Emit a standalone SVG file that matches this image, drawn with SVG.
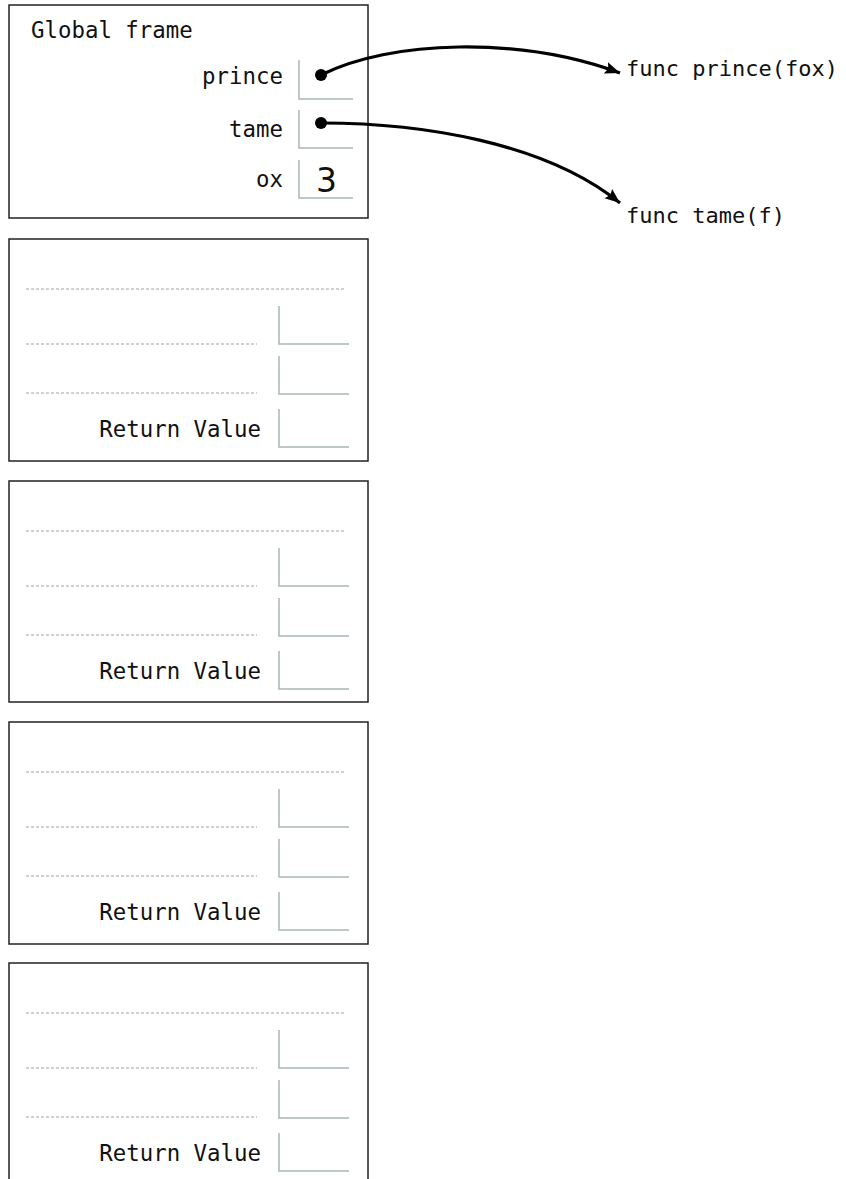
<svg xmlns="http://www.w3.org/2000/svg" width="846" height="1179" viewBox="0 0 846 1179">
<style>
.frame{fill:#fff;stroke:#222;stroke-width:1.5}
.box{fill:none;stroke:#a9b6b6;stroke-width:1.5}
.dot{fill:none;stroke:#98a6a6;stroke-width:1;stroke-dasharray:3 2}
.t{font-family:"DejaVu Sans Mono",monospace;font-size:22.4px;fill:#111}
.f{font-size:22px}
.e{text-anchor:end}
.num{font-family:"DejaVu Sans",sans-serif;font-size:33px;fill:#111}
.arr{fill:none;stroke:#000;stroke-width:3.2}
</style>
<defs>
<marker id="ah" markerUnits="userSpaceOnUse" markerWidth="16" markerHeight="14" refX="15" refY="7" orient="auto">
<path d="M0,1 L15,7 L0,13 L2.5,7 Z" fill="#000"/>
</marker>
<g id="fbody">
<line class="dot" x1="26" y1="50" x2="345" y2="50"/>
<line class="dot" x1="26" y1="105" x2="257" y2="105"/>
<line class="dot" x1="26" y1="154" x2="257" y2="154"/>
<path class="box" d="M279,67 V105 H349"/>
<path class="box" d="M279,117 V155 H349"/>
<path class="box" d="M279,170 V208 H349"/>
<text class="t e" x="261" y="198">Return Value</text>
</g>
</defs>
<g id="global-frame">
<rect class="frame" x="9" y="5" width="359" height="213"/>
<text class="t" x="31" y="38">Global frame</text>
<text class="t e" x="283" y="84">prince</text>
<text class="t e" x="283" y="137">tame</text>
<text class="t e" x="283" y="187">ox</text>
<path class="box" d="M299,60 V99 H353"/>
<path class="box" d="M299,110 V148 H353"/>
<path class="box" d="M299,160 V198 H353"/>
<text class="num" x="316" y="192">3</text>
</g>
<g id="func-prince">
<text class="t f" x="626" y="76">func prince(fox)</text>
</g>
<g id="func-tame">
<text class="t f" x="626" y="223">func tame(f)</text>
</g>
<g id="frame-1">
<rect class="frame" x="9" y="239" width="359" height="222"/>
<use href="#fbody" y="239"/>
</g>
<g id="frame-2">
<rect class="frame" x="9" y="481" width="359" height="221"/>
<use href="#fbody" y="481"/>
</g>
<g id="frame-3">
<rect class="frame" x="9" y="722" width="359" height="222"/>
<use href="#fbody" y="722"/>
</g>
<g id="frame-4">
<rect class="frame" x="9" y="963" width="359" height="240"/>
<use href="#fbody" y="963"/>
</g>
<g id="connectors">
<circle cx="321" cy="75" r="6" fill="#000"/>
<circle cx="321" cy="123" r="6" fill="#000"/>
<path class="arr" d="M321,75 C390,40 520,36 620,73" marker-end="url(#ah)"/>
<path class="arr" d="M321,123 C420,123 545,142 620,203" marker-end="url(#ah)"/>
</g>
</svg>
